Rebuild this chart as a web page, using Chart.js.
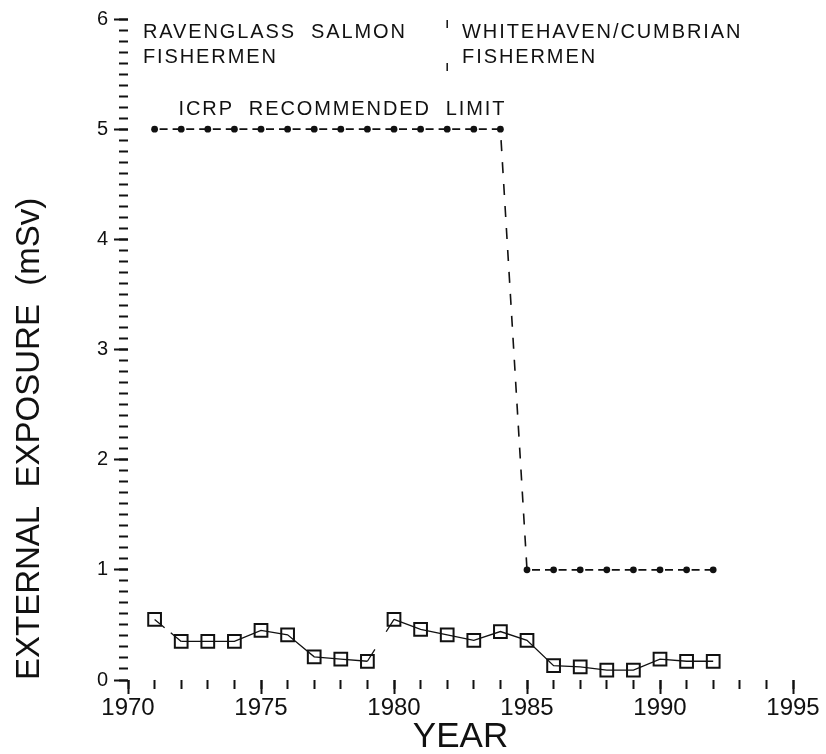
<!DOCTYPE html>
<html>
<head>
<meta charset="utf-8">
<script src="https://cdn.jsdelivr.net/npm/chart.js@4.4.1/dist/chart.umd.min.js"></script>
<style>
  html, body { margin: 0; padding: 0; background: #fff; }
  #wrap { width: 826px; height: 754px; }
</style>
</head>
<body>
<div id="wrap"><canvas id="chart" width="826" height="754"></canvas></div>
<script>
// Annual external exposure of fishermen (mSv)
const years = [1971, 1972, 1973, 1974, 1975, 1976, 1977, 1978, 1979, 1980, 1981,
               1982, 1983, 1984, 1985, 1986, 1987, 1988, 1989, 1990, 1991, 1992];
const exposure = [0.55, 0.35, 0.35, 0.35, 0.45, 0.41, 0.21, 0.19, 0.17, 0.55, 0.46,
                  0.41, 0.36, 0.44, 0.36, 0.13, 0.12, 0.09, 0.09, 0.19, 0.17, 0.17];

// ICRP recommended dose limit for members of the public (mSv)
const limitYears = years;
const icrpLimit = [5, 5, 5, 5, 5, 5, 5, 5, 5, 5, 5, 5, 5, 5,
                   1, 1, 1, 1, 1, 1, 1, 1];

// Divider between the two groups of fishermen
const dividerYear = 1982;
const dividerSpan = [5.99, 5.5];

// Axis ranges and tick spacing
const yearRange = [1970, 1995];
const doseRange = [0, 6];
const majorYearStep = 5, minorYearStep = 1;
const majorDoseStep = 1, minorDoseStep = 0.1;

// Text labels
const groupLabels = [
  { lines: ['RAVENGLASS  SALMON', 'FISHERMEN'], year: 1970.56 },
  { lines: ['WHITEHAVEN/CUMBRIAN', 'FISHERMEN'], year: 1982.56 }
];
const limitLabel = { text: 'ICRP  RECOMMENDED  LIMIT', year: 1971.9 };
const xTitle = 'YEAR';
const yTitle = 'EXTERNAL  EXPOSURE  (mSv)';

const INK = '#111';
const FONT = '"Liberation Sans", Arial, sans-serif';

const pts = (xs, ys) => xs.map((x, i) => ({ x, y: ys[i] }));

const annotationText = {
  id: 'annotationText',
  afterDatasetsDraw(chart) {
    const { ctx, scales } = chart;
    const xs = scales.x;
    ctx.save();
    ctx.fillStyle = INK;
    ctx.font = '20px ' + FONT;
    ctx.textBaseline = 'alphabetic';
    ctx.textAlign = 'left';
    if ('letterSpacing' in ctx) ctx.letterSpacing = '1.9px';
    groupLabels.forEach(g => {
      g.lines.forEach((line, i) => {
        ctx.fillText(line, xs.getPixelForValue(g.year), 38 + i * 25);
      });
    });
    ctx.fillText(limitLabel.text, xs.getPixelForValue(limitLabel.year), 115);
    ctx.restore();
  }
};

const tickGrid = (len) => ({
  drawOnChartArea: false,
  drawTicks: true,
  tickLength: len,
  tickWidth: 2,
  tickColor: INK
});

new Chart(document.getElementById('chart'), {
  type: 'line',
  data: {
    datasets: [
      {
        label: 'ICRP limit',
        data: pts(limitYears, icrpLimit),
        borderColor: INK,
        borderWidth: 1.6,
        pointStyle: 'circle',
        pointRadius: 3.4,
        pointBackgroundColor: INK,
        pointBorderColor: INK,
        pointBorderWidth: 0,
        segment: {
          // one dash pattern period per year step on the level parts
          borderDash: c => (c.p0.parsed.y !== c.p1.parsed.y ? [11, 11] : [0, 5, 8, 5, 8.6, 0]),
          borderDashOffset: c => (c.p0.parsed.y !== c.p1.parsed.y ? 11 : 0)
        }
      },
      {
        label: 'Divider',
        data: pts([dividerYear, dividerYear], dividerSpan),
        borderColor: INK,
        borderWidth: 1.5,
        borderDash: [8, 35],
        pointRadius: 0
      },
      {
        label: 'External exposure',
        data: pts(years, exposure),
        borderColor: INK,
        borderWidth: 1.3,
        pointStyle: 'rect',
        pointRadius: 9,
        pointBorderWidth: 2,
        pointBorderColor: INK,
        pointBackgroundColor: 'rgba(0,0,0,0)',
        segment: {
          borderDash: c => {
            const x0 = c.p0.parsed.x;
            if (x0 === 1971) return [13, 8, 40, 0];
            if (x0 === 1979) return [14, 21, 40, 0];
            return [];
          }
        }
      }
    ]
  },
  options: {
    responsive: false,
    devicePixelRatio: 1,
    animation: false,
    layout: { padding: { top: 19, right: 33, left: 0, bottom: 0 } },
    plugins: { legend: { display: false }, tooltip: { enabled: false } },
    elements: { line: { tension: 0 } },
    scales: {
      x: {
        type: 'linear', position: 'bottom', weight: 1,
        min: yearRange[0], max: yearRange[1],
        border: { display: false },
        grid: tickGrid(14),
        ticks: {
          stepSize: majorYearStep, color: INK, padding: 0,
          font: { family: FONT, size: 24 },
          maxRotation: 0, autoSkip: false,
          callback: v => String(v)
        },
        title: {
          display: true, text: xTitle, color: INK, align: 'center',
          font: { family: FONT, size: 35, lineHeight: 1 },
          padding: { top: 0, bottom: -1 }
        },
        afterFit: s => { s.height = 74; }
      },
      xMinor: {
        type: 'linear', position: 'bottom', weight: 0,
        min: yearRange[0], max: yearRange[1],
        border: { display: false },
        grid: tickGrid(9),
        ticks: { display: false, stepSize: minorYearStep },
        afterFit: s => { s.height = 0; }
      },
      y: {
        type: 'linear', position: 'left', weight: 1,
        min: doseRange[0], max: doseRange[1],
        border: { display: false },
        grid: tickGrid(14),
        ticks: {
          stepSize: majorDoseStep, color: INK, padding: 6,
          font: { family: FONT, size: 20 }
        },
        title: {
          display: true, text: yTitle, color: INK, align: 'start',
          font: { family: FONT, size: 33, lineHeight: 1 },
          padding: { top: 13, bottom: 0 }
        },
        afterFit: s => { s.width = 128; }
      },
      yMinor: {
        type: 'linear', position: 'left', weight: 0,
        min: doseRange[0], max: doseRange[1],
        border: { display: false },
        grid: tickGrid(9),
        ticks: { display: false, stepSize: minorDoseStep, maxTicksLimit: 100 },
        afterFit: s => { s.width = 0; }
      }
    }
  },
  plugins: [annotationText]
});
</script>
</body>
</html>
